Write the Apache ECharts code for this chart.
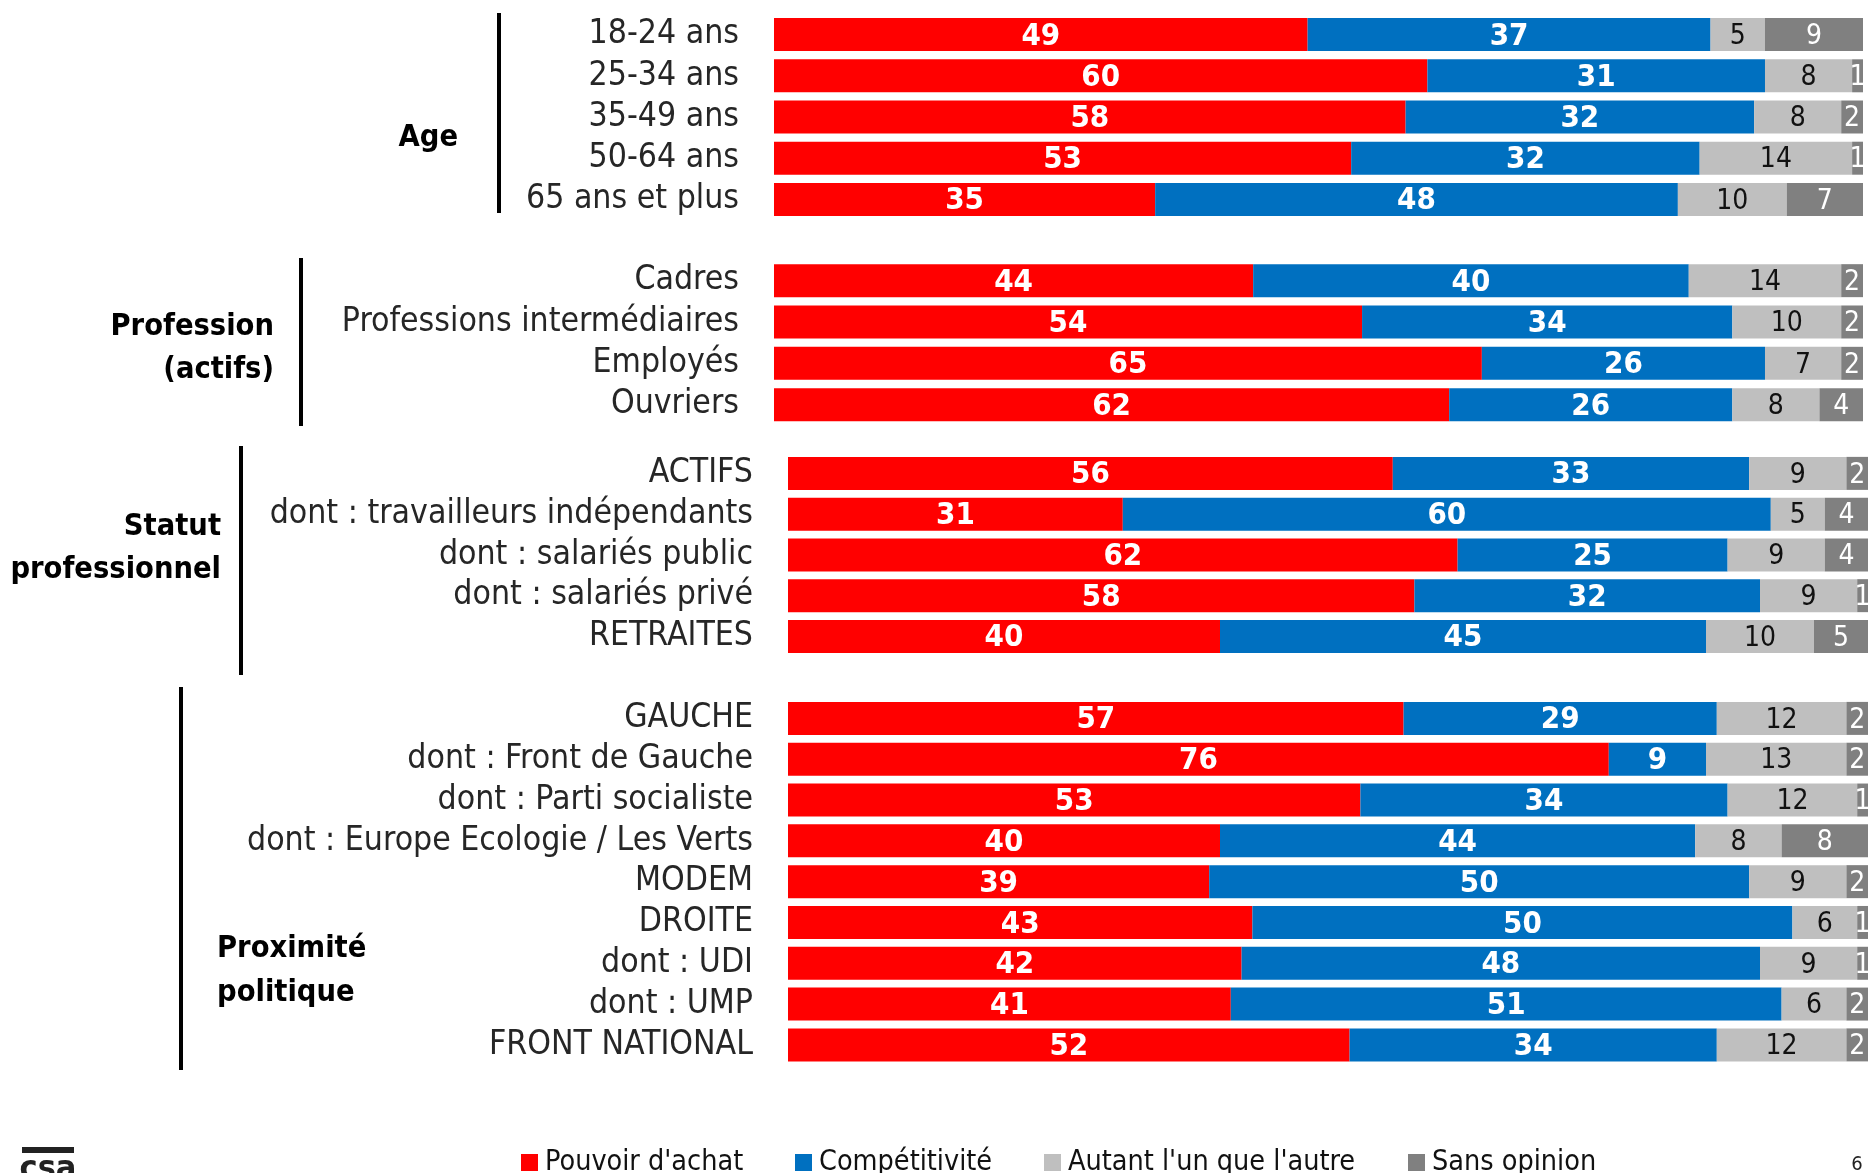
<!DOCTYPE html>
<html>
<head>
<meta charset="utf-8">
<script src="https://cdn.jsdelivr.net/npm/echarts@6/dist/echarts.min.js"></script>
<style>
html,body{margin:0;padding:0;background:#fff;}
#chart{width:1868px;height:1173px;}
</style>
</head>
<body>
<div id="chart"></div>
<script>
// ---- DATA ----
const groupNames = ['Age', 'Profession (actifs)', 'Statut professionnel', 'Proximité politique'];
const groupSizes = [5, 4, 5, 9];
const categories = [
  '18-24 ans', '25-34 ans', '35-49 ans', '50-64 ans', '65 ans et plus',
  'Cadres', 'Professions intermédiaires', 'Employés', 'Ouvriers',
  'ACTIFS', 'dont : travailleurs indépendants', 'dont : salariés public', 'dont : salariés privé', 'RETRAITES',
  'GAUCHE', 'dont : Front de Gauche', 'dont : Parti socialiste', 'dont : Europe Ecologie / Les Verts', 'MODEM',
  'DROITE', 'dont : UDI', 'dont : UMP', 'FRONT NATIONAL'
];
const seriesNames = ["Pouvoir d'achat", 'Compétitivité', "Autant l'un que l'autre", 'Sans opinion'];
const pouvoirAchat   = [49, 60, 58, 53, 35, 44, 54, 65, 62, 56, 31, 62, 58, 40, 57, 76, 53, 40, 39, 43, 42, 41, 52];
const competitivite  = [37, 31, 32, 32, 48, 40, 34, 26, 26, 33, 60, 25, 32, 45, 29,  9, 34, 44, 50, 50, 48, 51, 34];
const autant         = [ 5,  8,  8, 14, 10, 14, 10,  7,  8,  9,  5,  9,  9, 10, 12, 13, 12,  8,  9,  6,  9,  6, 12];
const sansOpinion    = [ 9,  1,  2,  1,  7,  2,  2,  2,  4,  2,  4,  4,  1,  5,  2,  2,  1,  8,  2,  1,  1,  2,  2];

// ---- STYLE ----
const FONT = "'Liberation Sans Narrow', 'DejaVu Sans Condensed', 'Roboto Condensed', 'Liberation Sans', sans-serif";
const colors = ['#FF0000', '#0070C0', '#BFBFBF', '#808080'];
const gridBoxes = [
  {left: 774, width: 1089, top: 14, height: 206},
  {left: 774, width: 1089, top: 260, height: 165.3},
  {left: 788, width: 1080, top: 453, height: 203.8},
  {left: 788, width: 1080, top: 698, height: 367.3}
];
const valueSets = [pouvoirAchat, competitivite, autant, sansOpinion];
const labelStyles = [
  {color: '#fff', fontWeight: 'bold', fontSize: 31},
  {color: '#fff', fontWeight: 'bold', fontSize: 31},
  {color: '#111', fontWeight: 'normal', fontSize: 28},
  {color: '#fff', fontWeight: 'normal', fontSize: 28}
];

const grid = [], xAxis = [], yAxis = [], series = [];
let offset = 0;
groupSizes.forEach((n, g) => {
  const cats = categories.slice(offset, offset + n);
  grid.push(Object.assign({containLabel: false}, gridBoxes[g]));
  xAxis.push({type: 'value', gridIndex: g, min: 0, max: 100, show: false});
  yAxis.push({
    type: 'category', gridIndex: g, data: cats, inverse: true,
    axisLine: {show: false}, axisTick: {show: false}, splitLine: {show: false},
    axisLabel: {interval: 0, fontSize: 33.5, color: '#262626', margin: 35, fontFamily: FONT, padding: [4, 0, 0, 0]}
  });
  valueSets.forEach((vals, s) => {
    series.push({
      name: seriesNames[s], type: 'bar', stack: 'g' + g,
      xAxisIndex: g, yAxisIndex: g,
      barWidth: 33,
      data: vals.slice(offset, offset + n),
      itemStyle: {color: colors[s]},
      label: Object.assign({show: true, position: 'inside', offset: [0, 2], fontFamily: FONT, formatter: '{c}'}, labelStyles[s]),
      emphasis: {disabled: true},
      animation: false
    });
  });
  offset += n;
});

const legendLefts = [516, 790, 1039, 1403];
const legend = seriesNames.map((name, i) => ({
  data: [name], left: legendLefts[i], top: 1143, icon: 'rect',
  itemWidth: 17, itemHeight: 17, itemGap: 0,
  textStyle: {fontSize: 28.5, color: '#111', fontFamily: FONT, padding: [0, 0, 0, 2]},
  selectedMode: false
}));

const lineStyle = {stroke: '#000', lineWidth: 4};
const boldText = (text, x, y, align) => ({
  type: 'text', x: x, y: y,
  style: {text: text, fill: '#000', font: "bold 30.5px " + FONT, textAlign: align, textVerticalAlign: 'middle'}
});
const graphic = [
  {type: 'line', shape: {x1: 499, y1: 13, x2: 499, y2: 213}, style: lineStyle},
  {type: 'line', shape: {x1: 301, y1: 258, x2: 301, y2: 426}, style: lineStyle},
  {type: 'line', shape: {x1: 241, y1: 446, x2: 241, y2: 675}, style: lineStyle},
  {type: 'line', shape: {x1: 181, y1: 687, x2: 181, y2: 1070}, style: lineStyle},
  boldText('Age', 458, 138, 'right'),
  boldText('Profession', 274, 327, 'right'),
  boldText('(actifs)', 274, 370, 'right'),
  boldText('Statut', 221, 527, 'right'),
  boldText('professionnel', 221, 570, 'right'),
  boldText('Proximité', 217, 949, 'left'),
  boldText('politique', 217, 993, 'left'),
  {type: 'rect', shape: {x: 22, y: 1147, width: 52, height: 6}, style: {fill: '#222'}},
  {type: 'text', x: 48, y: 1170, style: {text: 'csa', fill: '#222', font: "bold 34px " + FONT, textAlign: 'center', textVerticalAlign: 'middle'}},
  {type: 'text', x: 1857, y: 1165, style: {text: '6', fill: '#222', font: "20px " + FONT, textAlign: 'center', textVerticalAlign: 'middle'}}
];

const chart = echarts.init(document.getElementById('chart'), null, {renderer: 'canvas'});
chart.setOption({
  backgroundColor: '#fff',
  animation: false,
  textStyle: {fontFamily: FONT},
  grid: grid, xAxis: xAxis, yAxis: yAxis, series: series,
  legend: legend, graphic: graphic
});
</script>
</body>
</html>
